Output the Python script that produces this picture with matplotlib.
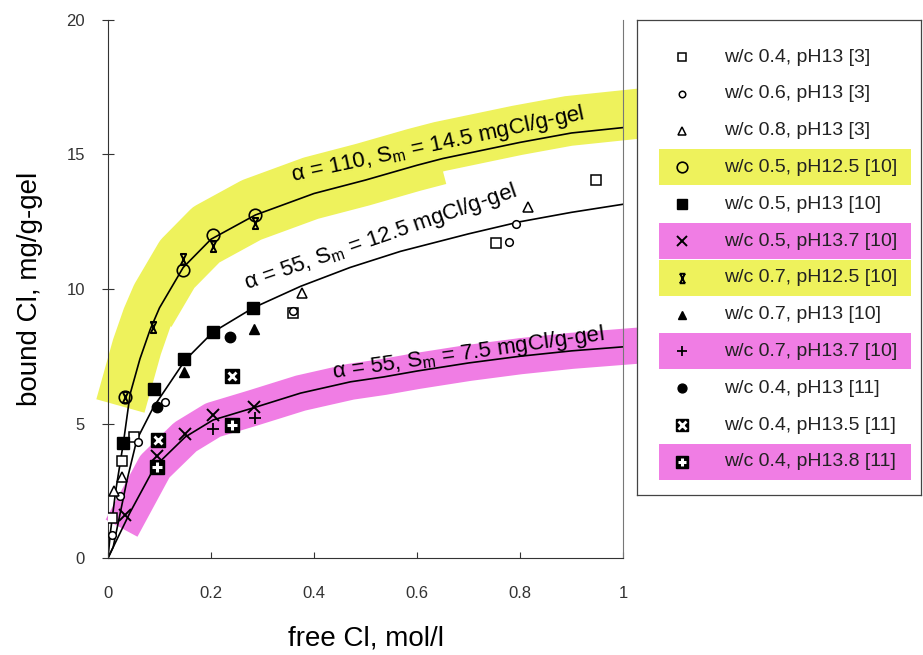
import numpy as np
import matplotlib.pyplot as plt
import matplotlib.transforms as mtransforms
from matplotlib.path import Path
from matplotlib.patches import Rectangle

plt.rcParams['font.family'] = ['Liberation Sans', 'DejaVu Sans']

# fitted curves
fit110_x = [0, 0.005, 0.015, 0.03, 0.043, 0.062, 0.082, 0.1, 0.146, 0.2, 0.286, 0.4, 0.5, 0.6, 0.65, 0.7, 0.8, 0.9, 1.0]
fit110_y = [0, 1.0, 2.5, 4.3, 6.1, 7.4, 8.5, 9.3, 10.8, 11.85, 12.75, 13.55, 14.05, 14.6, 14.85, 15.05, 15.45, 15.8, 16.0]

fit55a_x = [0, 0.01, 0.037, 0.056, 0.088, 0.111, 0.15, 0.204, 0.282, 0.374, 0.47, 0.568, 0.7, 0.8, 0.9, 1.0]
fit55a_y = [0, 0.4, 2.9, 4.4, 5.6, 6.25, 7.36, 8.4, 9.3, 10.1, 10.8, 11.4, 12.05, 12.5, 12.85, 13.15]

fit55b_x = [0, 0.01, 0.043, 0.091, 0.15, 0.204, 0.282, 0.374, 0.471, 0.535, 0.6, 0.7, 0.8, 0.9, 1.0]
fit55b_y = [0, 0.4, 1.7, 3.4, 4.5, 5.13, 5.58, 6.13, 6.55, 6.73, 6.95, 7.25, 7.5, 7.7, 7.85]

fit_labels = ['α = 110, S$_\\mathregular{m}$ = 14.5 mgCl/g-gel',
              'α = 55, S$_\\mathregular{m}$ = 12.5 mgCl/g-gel',
              'α = 55, S$_\\mathregular{m}$ = 7.5 mgCl/g-gel']

# measured points
s1_x = [0.008, 0.027, 0.05, 0.36, 0.753, 0.947]
s1_y = [1.5, 3.6, 4.5, 9.1, 11.7, 14.05]
s2_x = [0.008, 0.023, 0.058, 0.111, 0.36, 0.778, 0.793]
s2_y = [0.86, 2.3, 4.3, 5.8, 9.2, 11.75, 12.4]
s3_x = [0.012, 0.027, 0.377, 0.815]
s3_y = [2.5, 3.0, 9.85, 13.05]
s4_x = [0.033, 0.146, 0.204, 0.286]
s4_y = [6.0, 10.7, 12.0, 12.75]
s5_x = [0.03, 0.09, 0.148, 0.204, 0.282]
s5_y = [4.27, 6.3, 7.4, 8.4, 9.3]
s6_x = [0.033, 0.095, 0.15, 0.204, 0.284]
s6_y = [1.6, 3.8, 4.6, 5.3, 5.6]
s7_x = [0.033, 0.088, 0.146, 0.204, 0.286]
s7_y = [6.0, 8.6, 11.1, 11.6, 12.45]
s8_x = [0.148, 0.284]
s8_y = [6.9, 8.5]
s9_x = [0.204, 0.286]
s9_y = [4.8, 5.2]
s10_x = [0.095, 0.237]
s10_y = [5.6, 8.2]
s11_x = [0.097, 0.241]
s11_y = [4.4, 6.75]
s12_x = [0.095, 0.241]
s12_y = [3.4, 4.95]

labels = ['w/c 0.4, pH13 [3]', 'w/c 0.6, pH13 [3]', 'w/c 0.8, pH13 [3]',
          'w/c 0.5, pH12.5 [10]', 'w/c 0.5, pH13 [10]', 'w/c 0.5, pH13.7 [10]',
          'w/c 0.7, pH12.5 [10]', 'w/c 0.7, pH13 [10]', 'w/c 0.7, pH13.7 [10]',
          'w/c 0.4, pH13 [11]', 'w/c 0.4, pH13.5 [11]', 'w/c 0.4, pH13.8 [11]']

series = [(s1_x, s1_y), (s2_x, s2_y), (s3_x, s3_y), (s4_x, s4_y), (s5_x, s5_y), (s6_x, s6_y),
          (s7_x, s7_y), (s8_x, s8_y), (s9_x, s9_y), (s10_x, s10_y), (s11_x, s11_y), (s12_x, s12_y)]

yel = '#eef25c'
pink = '#f07de4'

# x with little bars top and bottom
xbar = Path([(-0.6, 1), (0.6, 1), (-0.6, -1), (0.6, -1), (-0.5, 1), (0.5, -1), (0.5, 1), (-0.5, -1)],
            [Path.MOVETO, Path.LINETO] * 4)

# marker styles: list of layers (marker, size, facecolor, edgecolor, edgewidth)
styles = [
    [('s', 7.5, 'white', 'black', 1.1)],
    [('o', 5.5, 'white', 'black', 1.1)],
    [('^', 7.5, 'white', 'black', 1.1)],
    [('o', 9, 'none', 'black', 1.2)],
    [('s', 8, 'black', 'black', 1.0)],
    [('x', 8, 'black', 'black', 1.4)],
    [(xbar, 8, 'black', 'black', 1.4)],
    [('^', 7.5, 'black', 'black', 1.0)],
    [('+', 8, 'black', 'black', 1.3)],
    [('o', 7.5, 'black', 'black', 1.0)],
    [('s', 10, 'black', 'black', 1.0), ('x', 6, 'white', 'white', 2.0)],
    [('s', 10, 'black', 'black', 1.0), ('+', 7, 'white', 'white', 2.2)],
]
highlight = [None, None, None, yel, None, pink, yel, None, pink, None, None, pink]

fig = plt.figure(figsize=(9.23, 6.55), dpi=100)
ax = fig.add_axes([108 / 923, 1 - 558 / 655, (623 - 108) / 923, (558 - 20) / 655])

# highlighter strokes
up = mtransforms.offset_copy(ax.transData, fig=fig, x=-3, y=12, units='dots')
down = mtransforms.offset_copy(ax.transData, fig=fig, x=0, y=-12, units='dots')
fx = np.array(fit110_x)
fy = np.array(fit110_y)
m = fx >= 0.043
ax.plot(fx[m], fy[m], color=yel, lw=36, solid_capstyle='projecting', zorder=0,
        clip_on=False, transform=up)
m = (fx >= 0.1) & (fx <= 0.65)
ax.plot(fx[m], fy[m], color=yel, lw=20, solid_capstyle='butt', solid_joinstyle='round',
        zorder=0, clip_on=False, transform=down)
px = np.array(fit55b_x)
py = np.array(fit55b_y)
m = px >= 0.043
ax.plot(px[m], py[m], color=pink, lw=26, solid_capstyle='projecting', zorder=0,
        clip_on=False)

for cx, cy in [(fit110_x, fit110_y), (fit55a_x, fit55a_y), (fit55b_x, fit55b_y)]:
    ax.plot(cx, cy, color='black', lw=1.2, zorder=2)

for (sx, sy), st in zip(series, styles):
    for mk, ms, fc, ec, mew in st:
        ax.plot(sx, sy, ls='none', marker=mk, ms=ms, mfc=fc, mec=ec, mew=mew, zorder=3)

ax.text(0.64, 15.35, fit_labels[0], rotation=12, ha='center', va='center',
        rotation_mode='anchor', fontsize=16, zorder=4)
ax.text(0.53, 11.9, fit_labels[1], rotation=19, ha='center', va='center',
        rotation_mode='anchor', fontsize=16, zorder=4)
ax.text(0.7, 7.62, fit_labels[2], rotation=8, ha='center', va='center',
        rotation_mode='anchor', fontsize=16, zorder=4)

ax.set_xlim(0, 1)
ax.set_ylim(0, 20)
ax.set_xticks([0, 0.2, 0.4, 0.6, 0.8, 1.0])
ax.set_xticklabels(['0', '0.2', '0.4', '0.6', '0.8', '1'])
ax.set_yticks([0, 5, 10, 15, 20])
ax.tick_params(axis='x', direction='in', length=4, pad=20, labelsize=12, colors='#333333')
ax.tick_params(axis='y', direction='inout', length=9, pad=12, labelsize=12, colors='#333333')
ax.spines['top'].set_visible(False)
ax.spines['right'].set_color('#777777')
ax.spines['right'].set_linewidth(0.8)
ax.spines['left'].set_color('#333333')
ax.spines['bottom'].set_color('#333333')
ax.set_xlabel('free Cl, mol/l', fontsize=20, labelpad=18)
ax.set_ylabel('bound Cl, mg/g-gel', fontsize=20, labelpad=17)
ax.patch.set_alpha(0)

# legend box drawn by hand
lax = fig.add_axes([637 / 923, 1 - 495 / 655, (921 - 637) / 923, (495 - 20) / 655])
lax.set_xlim(0, 284)
lax.set_ylim(475, 0)
lax.set_xticks([])
lax.set_yticks([])
for sp in lax.spines.values():
    sp.set_color('#444444')
    sp.set_linewidth(0.9)
rows = 37 + 36.8 * np.arange(len(labels))
for i, (lab, st, hl) in enumerate(zip(labels, styles, highlight)):
    if hl is not None:
        lax.add_patch(Rectangle((22, rows[i] - 18), 252, 36, color=hl, zorder=0, lw=0))
    for mk, ms, fc, ec, mew in st:
        lax.plot([45], [rows[i]], ls='none', marker=mk, ms=ms * 0.85, mfc=fc, mec=ec, mew=mew, zorder=3)
    lax.text(87, rows[i], lab, va='center', ha='left', fontsize=14, color='#222222', zorder=4)

fig.savefig('out.png', dpi=100)
